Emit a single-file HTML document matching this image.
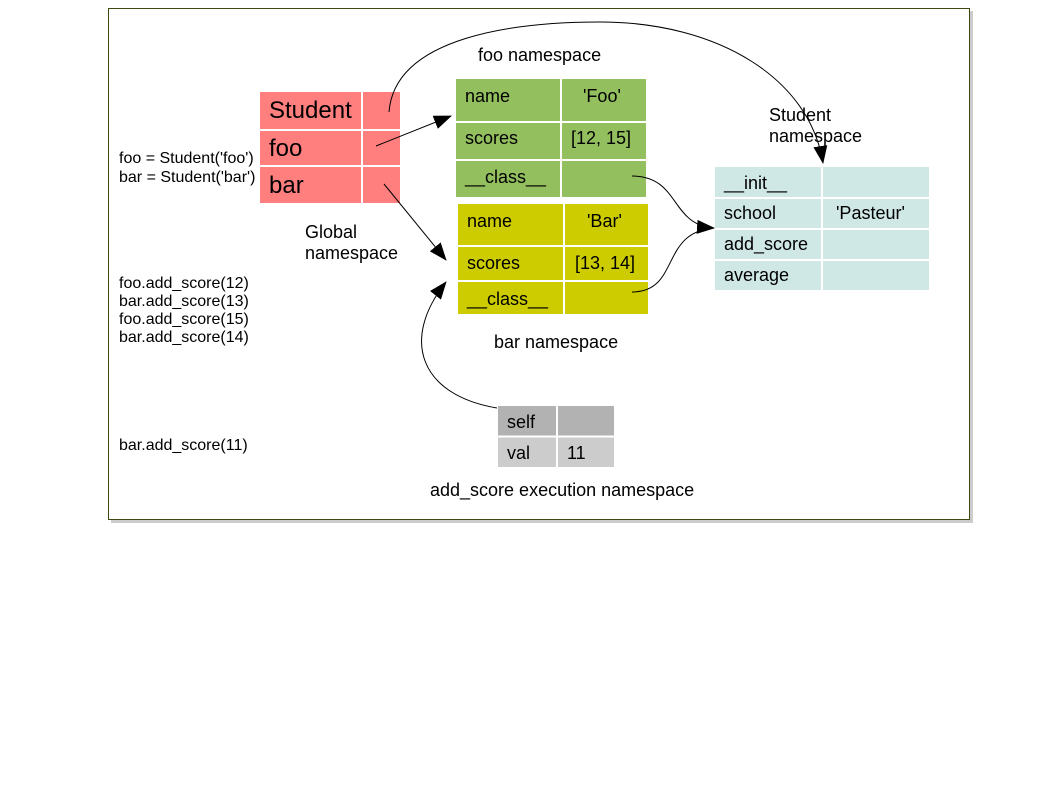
<!DOCTYPE html>
<html><head><style>
body{margin:0;background:#fff;width:1058px;height:794px;overflow:hidden;font-family:"Liberation Sans",sans-serif}
svg text{font-family:"Liberation Sans",sans-serif;fill:#000}
</style></head><body>
<svg width="1058" height="794" xmlns="http://www.w3.org/2000/svg">
<defs>
<marker id="b" markerWidth="18" markerHeight="14" refX="17" refY="7" orient="auto" markerUnits="userSpaceOnUse"><path d="M0,0 L18,7 L0,14 z" fill="#000"/></marker></defs>
<rect x="111" y="11" width="862" height="512" fill="#ccc"/>
<rect x="108.5" y="8.5" width="861" height="511" fill="#fff" stroke="#3b4a10" stroke-width="1"/>
<!-- global -->
<rect x="260" y="92" width="140" height="111" fill="#ff7f7f"/>
<g stroke="#fff" stroke-width="2"><line x1="362" y1="92" x2="362" y2="203"/><line x1="260" y1="130" x2="400" y2="130"/><line x1="260" y1="166" x2="400" y2="166"/></g>
<text x="269" y="118" font-size="24">Student</text><text x="269" y="156" font-size="24">foo</text><text x="269" y="193" font-size="24">bar</text>
<!-- foo -->
<rect x="456" y="79" width="190" height="118" fill="#93bf5f"/>
<g stroke="#fff" stroke-width="2"><line x1="561" y1="79" x2="561" y2="197"/><line x1="456" y1="122" x2="646" y2="122"/><line x1="456" y1="160" x2="646" y2="160"/></g>
<g font-size="18"><text x="465" y="102">name</text><text x="583" y="102">'Foo'</text><text x="465" y="144">scores</text><text x="571" y="144">[12, 15]</text><text x="465" y="183">__class__</text></g>
<!-- bar -->
<rect x="458" y="204" width="190" height="110" fill="#cccc00"/>
<g stroke="#fff" stroke-width="2"><line x1="564" y1="204" x2="564" y2="314"/><line x1="458" y1="246" x2="648" y2="246"/><line x1="458" y1="281" x2="648" y2="281"/></g>
<g font-size="18"><text x="467" y="227">name</text><text x="587" y="227">'Bar'</text><text x="467" y="269">scores</text><text x="575" y="269">[13, 14]</text><text x="467" y="305">__class__</text></g>
<!-- student -->
<rect x="715" y="167" width="214" height="123" fill="#cfe7e5"/>
<g stroke="#fff" stroke-width="2"><line x1="822" y1="167" x2="822" y2="290"/><line x1="715" y1="198" x2="929" y2="198"/><line x1="715" y1="229" x2="929" y2="229"/><line x1="715" y1="260" x2="929" y2="260"/></g>
<g font-size="18"><text x="724" y="189">__init__</text><text x="724" y="219">school</text><text x="836" y="219">'Pasteur'</text><text x="724" y="250">add_score</text><text x="724" y="281">average</text></g>
<!-- add_score -->
<rect x="498" y="406" width="116" height="30" fill="#b2b2b2"/><rect x="498" y="437" width="116" height="30" fill="#cccccc"/>
<g stroke="#fff" stroke-width="2"><line x1="557" y1="406" x2="557" y2="467"/><line x1="498" y1="436.5" x2="614" y2="436.5"/></g>
<g font-size="18"><text x="507" y="428">self</text><text x="507" y="459">val</text><text x="567" y="459">11</text></g>
<!-- labels -->
<g font-size="18"><text x="478" y="61">foo namespace</text><text x="769" y="121">Student</text><text x="769" y="142">namespace</text>
<text x="305" y="238">Global</text><text x="305" y="259">namespace</text><text x="494" y="348">bar namespace</text><text x="430" y="496">add_score execution namespace</text></g>
<g font-size="16"><text x="119" y="163">foo = Student('foo')</text><text x="119" y="182">bar = Student('bar')</text>
<text x="119" y="288">foo.add_score(12)</text><text x="119" y="306">bar.add_score(13)</text><text x="119" y="324">foo.add_score(15)</text><text x="119" y="342">bar.add_score(14)</text><text x="119" y="450">bar.add_score(11)</text></g>
<!-- connectors -->
<g fill="none" stroke="#000" stroke-width="1">
<path d="M389,112 C395,35 520,22 600,22 C720,22 810,80 823,163" marker-end="url(#b)"/>
<path d="M376,146 L451,116" marker-end="url(#b)"/>
<path d="M384,184 L446,260" marker-end="url(#b)"/>
<path d="M632,176 C680,176 670,225 714,228" marker-end="url(#b)"/>
<path d="M632,292 C680,292 660,232 714,228"/>
<path d="M497,408 C420,395 400,340 446,282" marker-end="url(#b)"/>
</g>
</svg>
</body></html>
